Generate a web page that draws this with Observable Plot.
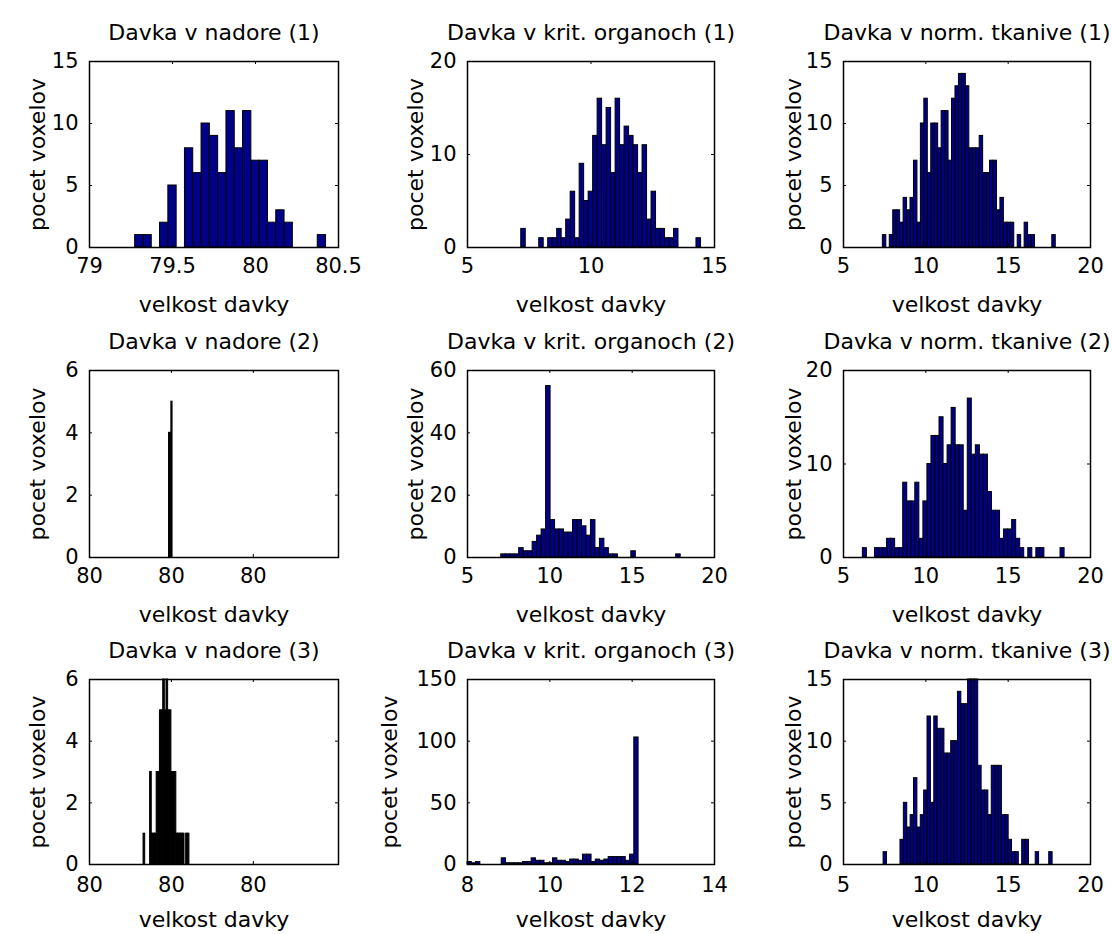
<!DOCTYPE html>
<html><head><meta charset="utf-8">
<script src="https://cdn.jsdelivr.net/npm/d3@7"></script>
<script src="https://cdn.jsdelivr.net/npm/@observablehq/plot@0.6"></script>
<style>
body{margin:0;background:#fff;}
#fig{position:relative;width:1112px;height:934px;background:#fff;overflow:hidden;}
#fig svg{position:absolute;}
</style></head><body><div id="fig"></div>
<script>
// ---- texts ----
const titles = [
  "Davka v nadore (1)", "Davka v krit. organoch (1)", "Davka v norm. tkanive (1)",
  "Davka v nadore (2)", "Davka v krit. organoch (2)", "Davka v norm. tkanive (2)",
  "Davka v nadore (3)", "Davka v krit. organoch (3)", "Davka v norm. tkanive (3)"
];
const xLabel = "velkost davky";
const yLabel = "pocet voxelov";

// ---- histogram counts (bins left to right) ----
const tumor1Counts = [1,1,0,2,5,0,8,6,10,9,6,11,8,11,7,7,2,3,2,0,0,0,1];
const crit1Counts = [2,0,0,0,1,0,1,1,2,1,3,6,1,9,5,6,12,16,11,15,8,16,11,13,12,11,8,11,3,6,2,2,1,1,2,0,0,0,0,1];
const norm1Counts = [1,0,1,3,3,2,4,3,4,7,2,10,12,6,10,10,8,11,11,7,12,13,14,14,13,8,8,8,9,6,6,7,7,3,4,2,2,2,0,1,0,2,1,1,0,0,0,0,0,1];
const tumor2Counts = [4,4,5];
const crit2Counts = [1,1,1,1,3,2,2,5,7,9,55,12,9,9,8,8,12,12,10,7,12,3,6,3,1,1,0,0,0,2,0,0,0,0,0,0,0,0,0,1];
const norm2Counts = [1,0,0,1,1,1,2,2,1,1,8,6,6,8,2,6,10,13,13,15,10,12,16,12,12,5,17,11,12,11,11,7,5,5,2,3,3,4,2,1,0,1,0,1,1,0,0,0,0,1];
const tumor3Counts = [1,0,0,0,3,1,1,1,3,3,5,5,6,5,6,5,5,3,3,3,1,1,1,1,1,0,1,1];
const crit3Counts = [2,1,2,0,0,0,0,0,5,1,1,1,1,2,2,5,3,3,1,1,5,3,3,2,4,4,3,8,8,2,4,3,4,6,6,6,6,3,8,103];
const norm3Counts = [1,0,0,0,0,2,5,3,4,7,3,4,6,12,5,12,11,11,9,9,10,10,14,13,13,15,15,15,8,6,6,4,8,8,8,4,4,2,1,1,0,2,2,0,0,1,0,0,0,1];

// ---- bin start (first left edge) and bin width per histogram ----
// tumor (2),(3): dose offset above the axis' left limit (~80), in units of one tick step
const binStart = [79.275, 7.176, 7.39, 0.971, 7.049, 6.176, 0.66, 8.0, 7.434];
const binWidth = [0.05, 0.1819, 0.21, 0.0143, 0.2724, 0.245, 0.02, 0.1039, 0.2053];

// ---- axes limits and tick labels ----
const xDomains = [[79,80.5],[5,15],[5,20],[0,3.04],[5,20],[5,20],[0,3.04],[8,14],[5,20]];
const xTicks = [[79,79.5,80,80.5],[5,10,15],[5,10,15,20],[0,1,2],[5,10,15,20],[5,10,15,20],[0,1,2],[8,10,12,14],[5,10,15,20]];
const xTickLabels = [["79","79.5","80","80.5"],["5","10","15"],["5","10","15","20"],["80","80","80"],["5","10","15","20"],["5","10","15","20"],["80","80","80"],["8","10","12","14"],["5","10","15","20"]];
const yDomains = [[0,15],[0,20],[0,15],[0,6],[0,60],[0,20],[0,6],[0,150],[0,15]];
const yTicks = [[0,5,10,15],[0,10,20],[0,5,10,15],[0,2,4,6],[0,20,40,60],[0,10,20],[0,2,4,6],[0,50,100,150],[0,5,10,15]];

const counts = [tumor1Counts, crit1Counts, norm1Counts, tumor2Counts, crit2Counts, norm2Counts, tumor3Counts, crit3Counts, norm3Counts];

// ---- layout ----
const colFrames = [[89,338],[467,714],[843,1090]];
const rowFrames = [[61,247],[370,557],[679,864]];
const yLabelOffsets = [52,52,50, 52,52,50, 52,78,50];
const barFills = ["#000088","#000088","#000088","#000000","#000088","#000088","#000000","#000088","#000088"];
const fontFamily = "DejaVu Sans";

const fig = document.getElementById("fig");
for (let p = 0; p < 9; p++) {
  const r = Math.floor(p / 3), c = p % 3;
  const [fl, fr] = colFrames[c];
  const [ft, fb] = rowFrames[r];
  const mL = c === 0 ? fl : 100;
  const svgLeft = fl - mL;
  const mR = c === 2 ? 1112 - fr : 30;
  const mT = 61;
  const mB = r === 2 ? 934 - fb : 70;
  const fw = fr - fl, fh = fb - ft;
  const W = mL + fw + mR, H = mT + fh + mB;
  const bins = counts[p].map((n, i) => ({x1: binStart[p] + i * binWidth[p], x2: binStart[p] + (i + 1) * binWidth[p], n})).filter(d => d.n > 0);
  const labels = xTickLabels[p];
  const ticksX = xTicks[p];
  const chart = Plot.plot({
    width: W, height: H,
    marginLeft: mL, marginRight: mR, marginTop: mT, marginBottom: mB,
    style: {fontFamily, fontSize: "21px", background: "transparent", color: "black", overflow: "visible"},
    x: {domain: xDomains[p]},
    y: {domain: yDomains[p]},
    marks: [
      Plot.rect(bins, {x1: "x1", x2: "x2", y1: 0, y2: "n", fill: barFills[p], stroke: "black", strokeWidth: 1}),
      Plot.tickX(ticksX, {x: d => d, insetTop: fh - 3, stroke: "black"}),
      Plot.tickX(ticksX, {x: d => d, insetBottom: fh - 3, stroke: "black"}),
      Plot.tickY(yTicks[p], {y: d => d, insetRight: fw - 3, stroke: "black"}),
      Plot.tickY(yTicks[p], {y: d => d, insetLeft: fw - 3, stroke: "black"}),
      Plot.frame({stroke: "black", strokeWidth: 1.5}),
      Plot.axisX(ticksX, {tickSize: 0, tickPadding: r === 2 ? 13 : 11, tickFormat: (d) => labels[ticksX.indexOf(d)], label: null, fontSize: 21}),
      Plot.axisY(yTicks[p], {tickSize: 0, tickPadding: 11, label: null, fontSize: 21}),
      Plot.text([titles[p]], {text: d => d, frameAnchor: "top", dy: -29, lineAnchor: "middle", textAnchor: "middle", fontSize: 22, fill: "black"}),
      Plot.text([xLabel], {text: d => d, frameAnchor: "bottom", dy: r === 2 ? 55 : 57, lineAnchor: "middle", textAnchor: "middle", fontSize: 22, fill: "black"}),
      Plot.text([yLabel], {text: d => d, frameAnchor: "left", rotate: -90, dx: -yLabelOffsets[p], lineAnchor: "middle", textAnchor: "middle", fontSize: 22, fill: "black"})
    ]
  });
  chart.style.left = svgLeft + "px";
  chart.style.top = (ft - mT) + "px";
  fig.appendChild(chart);
}
</script>
</body></html>
